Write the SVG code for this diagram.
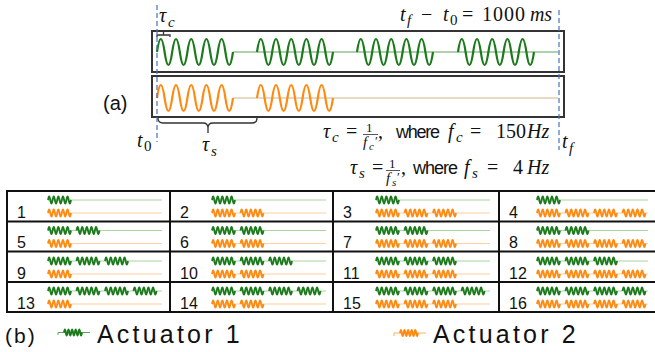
<svg xmlns="http://www.w3.org/2000/svg" xmlns:xlink="http://www.w3.org/1999/xlink" width="655" height="352" viewBox="0 0 655 352">
<style>
.box{fill:none;stroke:#333;stroke-width:2}
.grid{fill:none;stroke:#111;stroke-width:2}
.gw{fill:none;stroke:#1b7a1b;stroke-width:2.2}
.ow{fill:none;stroke:#ff8a12;stroke-width:2.2}
.gm{fill:none;stroke:#1b7a1b;stroke-width:1.8}
.om{fill:none;stroke:#ff8a12;stroke-width:1.8}
.gf{stroke:#5aa55a;stroke-width:1}
.of{stroke:#d2b48c;stroke-width:1}
.gl{stroke:#a8d5a0;stroke-width:1.2}
.ol{stroke:#ffd0a0;stroke-width:1.2}
.dash{stroke:#4472c4;stroke-width:1.2;stroke-dasharray:5 3}
.br{fill:none;stroke:#333;stroke-width:1.3}
.m{font-family:"Liberation Serif",serif;font-style:italic;fill:#111}
.r{font-family:"Liberation Serif",serif;fill:#111}
.s{font-family:"Liberation Sans",sans-serif;fill:#111}
.num{font-family:"Liberation Sans",sans-serif;font-size:16px;fill:#111}
</style>
<defs>
<path id="big" d="M0,0 q3.8,-26 7.6,0 t7.6,0 t7.6,0 t7.6,0 t7.6,0 t7.6,0 t7.6,0 t7.6,0 t7.6,0 t7.6,0"/>
<path id="mini" d="M0,0 q1.15,-7 2.3,0 t2.3,0 t2.3,0 t2.3,0 t2.3,0 t2.3,0 t2.3,0 t2.3,0 t2.3,0 t2.3,0"/>
<path id="leg" d="M0,0 q0.9,-6 1.8,0 t1.8,0 t1.8,0 t1.8,0 t1.8,0 t1.8,0 t1.8,0 t1.8,0 t1.8,0 t1.8,0"/>
</defs>

<g id="panel-a">
  <rect class="box" x="152" y="31" width="412" height="41"/>
  <rect class="box" x="152" y="76" width="412" height="41"/>
  <g id="signal-1">
    <line class="gf" x1="233" y1="52" x2="558" y2="52"/>
    <use href="#big" x="157" y="52" class="gw"/>
    <use href="#big" x="257" y="52" class="gw"/>
    <use href="#big" x="357" y="52" class="gw"/>
    <use href="#big" x="458" y="52" class="gw"/>
  </g>
  <g id="signal-2">
    <line class="of" x1="233" y1="98" x2="558" y2="98"/>
    <use href="#big" x="157" y="98" class="ow"/>
    <use href="#big" x="257" y="98" class="ow"/>
  </g>
  <line class="dash" x1="157" y1="5" x2="157" y2="142"/>
  <line class="dash" x1="559" y1="10" x2="559" y2="150"/>
  <path class="br" d="M157,37 V35 H170 V37 M163.5,35 V31"/>
  <path class="br" d="M158,118 Q158,123 163,123 H203 Q208,123 208,128 V133 M257,118 Q257,123 252,123 H213 Q208,123 208,128"/>
  <text class="s" x="103" y="110" font-size="20">(a)</text>
  <text class="m" x="159" y="22" font-size="20">τ</text>
  <text class="m" x="168" y="27" font-size="15">c</text>
  <text class="m" x="137" y="147" font-size="20">t</text>
  <text class="r" x="144" y="151" font-size="15">0</text>
  <text class="m" x="562" y="148" font-size="20">t</text>
  <text class="m" x="569" y="153" font-size="15">f</text>
  <text class="m" x="202" y="151" font-size="20">τ</text>
  <text class="m" x="211" y="156" font-size="15">s</text>
  <g id="eq-top">
    <text class="m" x="400" y="21" font-size="20">t</text>
    <text class="m" x="407" y="25" font-size="15">f</text>
    <text class="r" x="421" y="21" font-size="20">−</text>
    <text class="m" x="443" y="21" font-size="20">t</text>
    <text class="r" x="450" y="25" font-size="15">0</text>
    <text class="r" x="462" y="21" font-size="20">=</text>
    <text class="r" x="482" y="21" font-size="20" textLength="43">1000</text>
    <text class="m" x="530" y="21" font-size="20" textLength="22">ms</text>
  </g>
  <g id="eq-c">
    <text class="m" x="323" y="138" font-size="20">τ</text>
    <text class="m" x="332" y="142" font-size="15">c</text>
    <text class="r" x="346" y="138" font-size="20">=</text>
    <text class="r" x="366" y="132" font-size="13">1</text>
    <line x1="363" y1="134.5" x2="378" y2="134.5" stroke="#111" stroke-width="0.7"/>
    <text class="m" x="363" y="147" font-size="15">f</text>
    <text class="m" x="369" y="150" font-size="11">c</text>
    <text class="r" x="375" y="145" font-size="13">′</text>
    <text class="r" x="378" y="138" font-size="20">,</text>
    <text class="s" x="396" y="138" font-size="18" textLength="44">where</text>
    <text class="m" x="448" y="138" font-size="20">f</text>
    <text class="m" x="456" y="142" font-size="15">c</text>
    <text class="r" x="470" y="138" font-size="20">=</text>
    <text class="r" x="496" y="138" font-size="20">150</text>
    <text class="m" x="527" y="138" font-size="20">Hz</text>
  </g>
  <g id="eq-s">
    <text class="m" x="350" y="174" font-size="20">τ</text>
    <text class="m" x="359" y="178" font-size="15">s</text>
    <text class="r" x="372" y="174" font-size="20">=</text>
    <text class="r" x="389" y="168" font-size="13">1</text>
    <line x1="386" y1="170.5" x2="400" y2="170.5" stroke="#111" stroke-width="0.7"/>
    <text class="m" x="386" y="183" font-size="15">f</text>
    <text class="m" x="392" y="186" font-size="11">s</text>
    <text class="r" x="397" y="181" font-size="13">′</text>
    <text class="r" x="401" y="174" font-size="20">,</text>
    <text class="s" x="413" y="174" font-size="18" textLength="45">where</text>
    <text class="m" x="464" y="174" font-size="20">f</text>
    <text class="m" x="472" y="178" font-size="15">s</text>
    <text class="r" x="487" y="174" font-size="20">=</text>
    <text class="r" x="513" y="174" font-size="20">4</text>
    <text class="m" x="527" y="174" font-size="20">Hz</text>
  </g>
</g>

<g id="table">
  <rect class="grid" x="7" y="191" width="652" height="121"/>
  <line class="grid" x1="7" y1="221.5" x2="659" y2="221.5"/>
  <line class="grid" x1="7" y1="251.5" x2="659" y2="251.5"/>
  <line class="grid" x1="7" y1="282" x2="659" y2="282"/>
  <line class="grid" x1="170" y1="191" x2="170" y2="312"/>
  <line class="grid" x1="333" y1="191" x2="333" y2="312"/>
  <line class="grid" x1="499" y1="191" x2="499" y2="312"/>
</g>

<g id="cell-1">
  <text class="num" x="17" y="218">1</text>
  <line class="gl" x1="48" y1="200" x2="162" y2="200"/><line class="ol" x1="48" y1="213" x2="162" y2="213"/>
  <use href="#mini" x="48" y="200" class="gm"/>
  <use href="#mini" x="48" y="213" class="om"/>
</g>
<g id="cell-2">
  <text class="num" x="180" y="218">2</text>
  <line class="gl" x1="212" y1="200" x2="326" y2="200"/><line class="ol" x1="212" y1="213" x2="326" y2="213"/>
  <use href="#mini" x="212" y="200" class="gm"/>
  <use href="#mini" x="212" y="213" class="om"/><use href="#mini" x="240.5" y="213" class="om"/>
</g>
<g id="cell-3">
  <text class="num" x="343" y="218">3</text>
  <line class="gl" x1="376" y1="200" x2="490" y2="200"/><line class="ol" x1="376" y1="213" x2="490" y2="213"/>
  <use href="#mini" x="376" y="200" class="gm"/>
  <use href="#mini" x="376" y="213" class="om"/><use href="#mini" x="404.5" y="213" class="om"/><use href="#mini" x="433" y="213" class="om"/>
</g>
<g id="cell-4">
  <text class="num" x="509" y="218">4</text>
  <line class="gl" x1="537" y1="200" x2="648" y2="200"/><line class="ol" x1="537" y1="213" x2="648" y2="213"/>
  <use href="#mini" x="537" y="200" class="gm"/>
  <use href="#mini" x="537" y="213" class="om"/><use href="#mini" x="565.5" y="213" class="om"/><use href="#mini" x="594" y="213" class="om"/><use href="#mini" x="622.5" y="213" class="om"/>
</g>

<g id="cell-5">
  <text class="num" x="17" y="248">5</text>
  <line class="gl" x1="48" y1="230.5" x2="162" y2="230.5"/><line class="ol" x1="48" y1="243.5" x2="162" y2="243.5"/>
  <use href="#mini" x="48" y="230.5" class="gm"/><use href="#mini" x="76.5" y="230.5" class="gm"/>
  <use href="#mini" x="48" y="243.5" class="om"/>
</g>
<g id="cell-6">
  <text class="num" x="180" y="248">6</text>
  <line class="gl" x1="212" y1="230.5" x2="326" y2="230.5"/><line class="ol" x1="212" y1="243.5" x2="326" y2="243.5"/>
  <use href="#mini" x="212" y="230.5" class="gm"/><use href="#mini" x="240.5" y="230.5" class="gm"/>
  <use href="#mini" x="212" y="243.5" class="om"/><use href="#mini" x="240.5" y="243.5" class="om"/>
</g>
<g id="cell-7">
  <text class="num" x="343" y="248">7</text>
  <line class="gl" x1="376" y1="230.5" x2="490" y2="230.5"/><line class="ol" x1="376" y1="243.5" x2="490" y2="243.5"/>
  <use href="#mini" x="376" y="230.5" class="gm"/><use href="#mini" x="404.5" y="230.5" class="gm"/>
  <use href="#mini" x="376" y="243.5" class="om"/><use href="#mini" x="404.5" y="243.5" class="om"/><use href="#mini" x="433" y="243.5" class="om"/>
</g>
<g id="cell-8">
  <text class="num" x="509" y="248">8</text>
  <line class="gl" x1="537" y1="230.5" x2="648" y2="230.5"/><line class="ol" x1="537" y1="243.5" x2="648" y2="243.5"/>
  <use href="#mini" x="537" y="230.5" class="gm"/><use href="#mini" x="565.5" y="230.5" class="gm"/>
  <use href="#mini" x="537" y="243.5" class="om"/><use href="#mini" x="565.5" y="243.5" class="om"/><use href="#mini" x="594" y="243.5" class="om"/><use href="#mini" x="622.5" y="243.5" class="om"/>
</g>

<g id="cell-9">
  <text class="num" x="17" y="278.5">9</text>
  <line class="gl" x1="48" y1="261" x2="162" y2="261"/><line class="ol" x1="48" y1="274" x2="162" y2="274"/>
  <use href="#mini" x="48" y="261" class="gm"/><use href="#mini" x="76.5" y="261" class="gm"/><use href="#mini" x="105" y="261" class="gm"/>
  <use href="#mini" x="48" y="274" class="om"/>
</g>
<g id="cell-10">
  <text class="num" x="180" y="278.5">10</text>
  <line class="gl" x1="212" y1="261" x2="326" y2="261"/><line class="ol" x1="212" y1="274" x2="326" y2="274"/>
  <use href="#mini" x="212" y="261" class="gm"/><use href="#mini" x="240.5" y="261" class="gm"/><use href="#mini" x="269" y="261" class="gm"/>
  <use href="#mini" x="212" y="274" class="om"/><use href="#mini" x="240.5" y="274" class="om"/>
</g>
<g id="cell-11">
  <text class="num" x="343" y="278.5">11</text>
  <line class="gl" x1="376" y1="261" x2="490" y2="261"/><line class="ol" x1="376" y1="274" x2="490" y2="274"/>
  <use href="#mini" x="376" y="261" class="gm"/><use href="#mini" x="404.5" y="261" class="gm"/><use href="#mini" x="433" y="261" class="gm"/>
  <use href="#mini" x="376" y="274" class="om"/><use href="#mini" x="404.5" y="274" class="om"/><use href="#mini" x="433" y="274" class="om"/>
</g>
<g id="cell-12">
  <text class="num" x="509" y="278.5">12</text>
  <line class="gl" x1="537" y1="261" x2="648" y2="261"/><line class="ol" x1="537" y1="274" x2="648" y2="274"/>
  <use href="#mini" x="537" y="261" class="gm"/><use href="#mini" x="565.5" y="261" class="gm"/><use href="#mini" x="594" y="261" class="gm"/>
  <use href="#mini" x="537" y="274" class="om"/><use href="#mini" x="565.5" y="274" class="om"/><use href="#mini" x="594" y="274" class="om"/><use href="#mini" x="622.5" y="274" class="om"/>
</g>

<g id="cell-13">
  <text class="num" x="17" y="309">13</text>
  <line class="gl" x1="48" y1="291" x2="162" y2="291"/><line class="ol" x1="48" y1="304" x2="162" y2="304"/>
  <use href="#mini" x="48" y="291" class="gm"/><use href="#mini" x="76.5" y="291" class="gm"/><use href="#mini" x="105" y="291" class="gm"/><use href="#mini" x="133.5" y="291" class="gm"/>
  <use href="#mini" x="48" y="304" class="om"/>
</g>
<g id="cell-14">
  <text class="num" x="180" y="309">14</text>
  <line class="gl" x1="212" y1="291" x2="326" y2="291"/><line class="ol" x1="212" y1="304" x2="326" y2="304"/>
  <use href="#mini" x="212" y="291" class="gm"/><use href="#mini" x="240.5" y="291" class="gm"/><use href="#mini" x="269" y="291" class="gm"/><use href="#mini" x="297.5" y="291" class="gm"/>
  <use href="#mini" x="212" y="304" class="om"/><use href="#mini" x="240.5" y="304" class="om"/>
</g>
<g id="cell-15">
  <text class="num" x="343" y="309">15</text>
  <line class="gl" x1="376" y1="291" x2="490" y2="291"/><line class="ol" x1="376" y1="304" x2="490" y2="304"/>
  <use href="#mini" x="376" y="291" class="gm"/><use href="#mini" x="404.5" y="291" class="gm"/><use href="#mini" x="433" y="291" class="gm"/><use href="#mini" x="461.5" y="291" class="gm"/>
  <use href="#mini" x="376" y="304" class="om"/><use href="#mini" x="404.5" y="304" class="om"/><use href="#mini" x="433" y="304" class="om"/>
</g>
<g id="cell-16">
  <text class="num" x="509" y="309">16</text>
  <line class="gl" x1="537" y1="291" x2="648" y2="291"/><line class="ol" x1="537" y1="304" x2="648" y2="304"/>
  <use href="#mini" x="537" y="291" class="gm"/><use href="#mini" x="565.5" y="291" class="gm"/><use href="#mini" x="594" y="291" class="gm"/><use href="#mini" x="622.5" y="291" class="gm"/>
  <use href="#mini" x="537" y="304" class="om"/><use href="#mini" x="565.5" y="304" class="om"/><use href="#mini" x="594" y="304" class="om"/><use href="#mini" x="622.5" y="304" class="om"/>
</g>

<g id="legend">
  <text class="s" x="5" y="343" font-size="21" letter-spacing="2">(b)</text>
  <path d="M58,335 V332.5 H90" stroke="#5aa55a" stroke-width="1" fill="none"/>
  <use href="#leg" x="64" y="332.5" class="gm"/>
  <text class="s" x="97" y="343" font-size="25" letter-spacing="3.2">Actuator 1</text>
  <path d="M394,336 V333 H426" stroke="#ffb060" stroke-width="1" fill="none"/>
  <use href="#leg" x="400" y="333" class="om"/>
  <text class="s" x="433" y="343" font-size="25" letter-spacing="3.2">Actuator 2</text>
</g>
</svg>
